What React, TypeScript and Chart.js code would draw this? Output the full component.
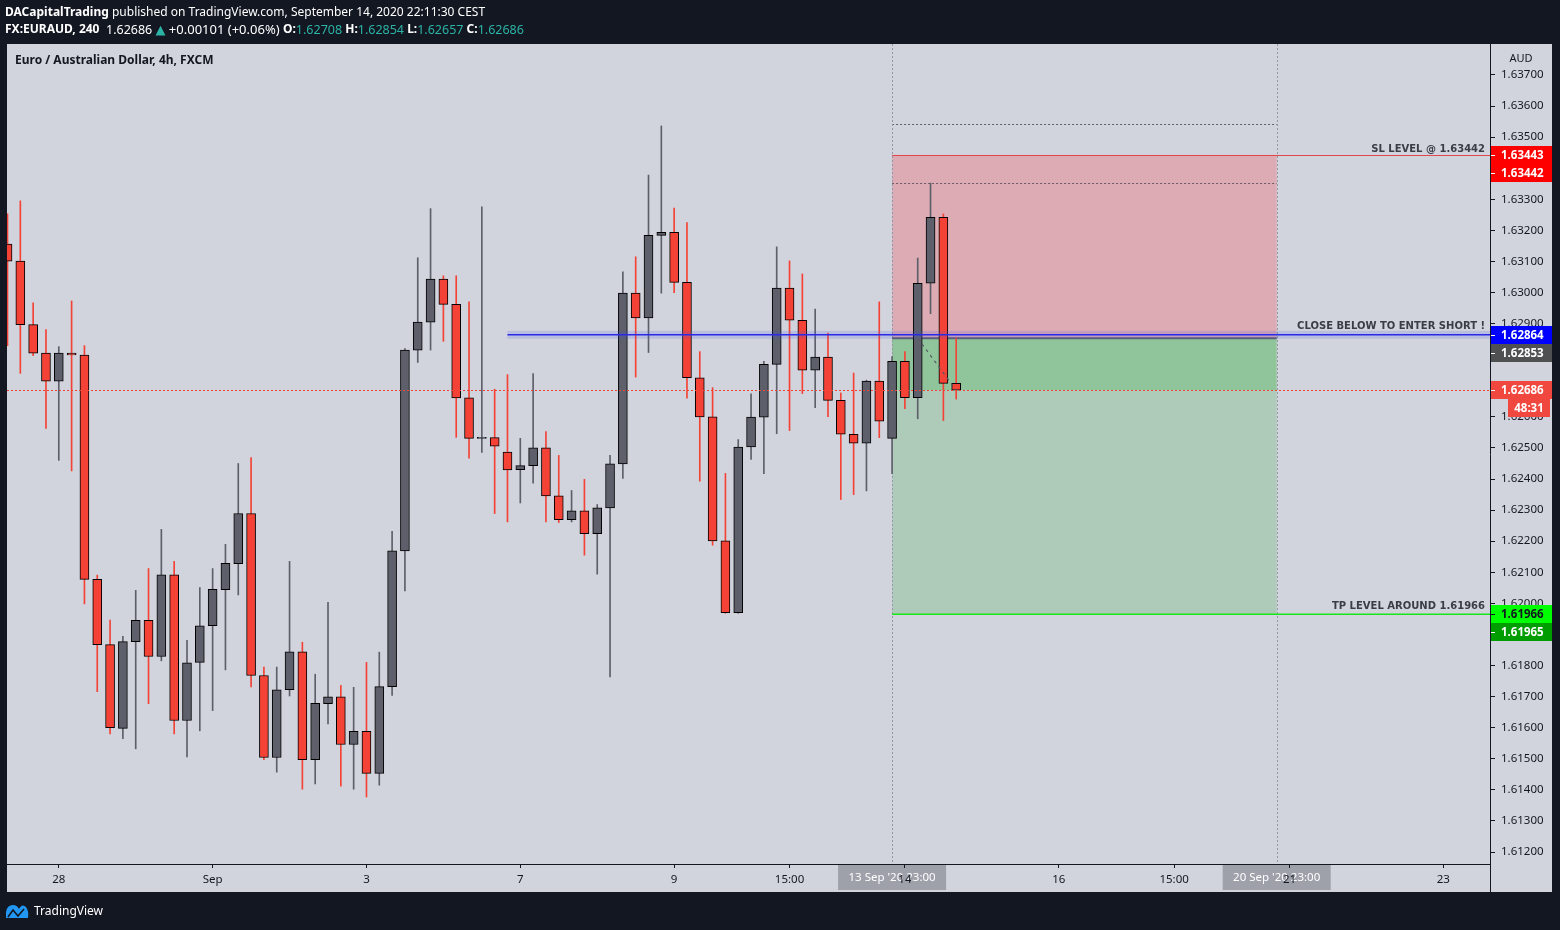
import React, { useEffect, useRef } from 'react';
import { Chart, registerables } from 'chart.js';

Chart.register(...registerables);

// ---- Candle data (EUR/AUD, 4h) ----
const opens = [
  1.63156, 1.63101, 1.62897, 1.62805, 1.62715, 1.62805, 1.62799, 1.62077, 1.61867, 1.61598,
  1.61877, 1.61945, 1.61829, 1.62092, 1.61623, 1.61810, 1.61928, 1.62044, 1.62128, 1.62289,
  1.61768, 1.61504, 1.61722, 1.61844, 1.61497, 1.61677, 1.61699, 1.61546, 1.61588, 1.61453,
  1.61732, 1.62169, 1.62815, 1.62905, 1.63043, 1.62962, 1.62661, 1.62531, 1.62533, 1.62487,
  1.62430, 1.62443, 1.62500, 1.62346, 1.62269, 1.62298, 1.62224, 1.62307, 1.62449, 1.62998,
  1.62918, 1.63184, 1.63194, 1.63033, 1.62726, 1.62600, 1.62201, 1.61970, 1.62503, 1.62599,
  1.62769, 1.63014, 1.62911, 1.62750, 1.62792, 1.62653, 1.62544, 1.62515, 1.62715, 1.62531,
  1.62779, 1.62662, 1.63030, 1.63242, 1.62708,
];
const highs = [
  1.63253, 1.63295, 1.62967, 1.62881, 1.62826, 1.62973, 1.62829, 1.62091, 1.61946, 1.61894,
  1.62042, 1.62112, 1.62238, 1.62135, 1.61881, 1.62051, 1.62112, 1.62190, 1.62450, 1.62469,
  1.61795, 1.61795, 1.62135, 1.61875, 1.61772, 1.62003, 1.61736, 1.61730, 1.61810, 1.61843,
  1.62232, 1.62820, 1.63112, 1.63270, 1.63054, 1.63054, 1.62970, 1.63276, 1.62689, 1.62736,
  1.62531, 1.62739, 1.62553, 1.62476, 1.62363, 1.62399, 1.62318, 1.62476, 1.63067, 1.63115,
  1.63378, 1.63536, 1.63272, 1.63225, 1.62810, 1.62694, 1.62418, 1.62527, 1.62674, 1.62779,
  1.63147, 1.63102, 1.63060, 1.62947, 1.62870, 1.62677, 1.62741, 1.62718, 1.62970, 1.62794,
  1.62810, 1.63111, 1.63352, 1.63253, 1.62854,
];
const lows = [
  1.62829, 1.62740, 1.62797, 1.62563, 1.62460, 1.62426, 1.61998, 1.61716, 1.61580, 1.61565,
  1.61532, 1.61677, 1.61815, 1.61580, 1.61506, 1.61590, 1.61655, 1.61786, 1.62027, 1.61731,
  1.61497, 1.61457, 1.61702, 1.61402, 1.61419, 1.61612, 1.61412, 1.61402, 1.61377, 1.61415,
  1.61704, 1.62040, 1.62775, 1.62815, 1.62843, 1.62534, 1.62467, 1.62486, 1.62289, 1.62262,
  1.62323, 1.62387, 1.62262, 1.62260, 1.62262, 1.62155, 1.62094, 1.61763, 1.62402, 1.62728,
  1.62807, 1.62998, 1.63000, 1.62660, 1.62393, 1.62187, 1.61968, 1.61968, 1.62463, 1.62417,
  1.62546, 1.62556, 1.62675, 1.62630, 1.62601, 1.62334, 1.62350, 1.62362, 1.62533, 1.62417,
  1.62626, 1.62594, 1.62932, 1.62588, 1.62657,
];
const closes = [
  1.63101, 1.62897, 1.62805, 1.62715, 1.62805, 1.62799, 1.62077, 1.61867, 1.61600, 1.61877,
  1.61945, 1.61829, 1.62092, 1.61623, 1.61809, 1.61928, 1.62045, 1.62129, 1.62289, 1.61768,
  1.61504, 1.61722, 1.61844, 1.61497, 1.61678, 1.61699, 1.61546, 1.61588, 1.61453, 1.61732,
  1.62169, 1.62815, 1.62905, 1.63043, 1.62962, 1.62661, 1.62531, 1.62534, 1.62506, 1.62429,
  1.62443, 1.62500, 1.62346, 1.62269, 1.62298, 1.62224, 1.62307, 1.62449, 1.62998, 1.62918,
  1.63184, 1.63194, 1.63033, 1.62726, 1.62600, 1.62201, 1.61970, 1.62503, 1.62599, 1.62769,
  1.63014, 1.62911, 1.62750, 1.62792, 1.62653, 1.62544, 1.62515, 1.62715, 1.62586, 1.62779,
  1.62662, 1.63030, 1.63242, 1.62708, 1.62686,
];

// ---- Axes ----
const timeTickIndex = [4, 16, 28, 40, 52, 61, 70, 82, 91, 100, 112];
const timeTickLabels = ['28', 'Sep', '3', '7', '9', '15:00', '14', '16', '15:00', '21', '23'];
const priceTicks = [
  1.612, 1.613, 1.614, 1.615, 1.616, 1.617, 1.618, 1.619, 1.62, 1.621, 1.622, 1.623, 1.624,
  1.625, 1.626, 1.627, 1.628, 1.629, 1.63, 1.631, 1.632, 1.633, 1.634, 1.635, 1.636, 1.637,
];
const xRange = [-0.04, 115.64];
const yRange = [1.611614, 1.637997];

// ---- Drawings ----
const positionRange = [69, 99];
const positionDates = ["13 Sep '20 23:00", "20 Sep '20 23:00"];
const entryPrice = 1.62853;
const stopPrice = 1.63443;
const targetPrice = 1.61966;
const highReached = 1.63352;
const upperDotted = 1.63542;
const slLevel = 1.63442;
const tpLevel = 1.61965;
const closeBelowLevel = 1.62864;
const closeBelowStart = 39;
const pathFrom = [71, 1.62853];
const pathTo = [74, 1.62686];
const countdown = '48:31';
const changeText = '+0.00101 (+0.06%)';

const RED = '#f44336';
const GREY = '#5d606b';
const FONT = "'Noto Sans', 'DejaVu Sans', sans-serif";

function drawRuns(ctx: CanvasRenderingContext2D, x: number, y: number, runs: [string, string, string][]) {
  let cx = x;
  for (const [t, font, color] of runs) {
    ctx.font = font;
    ctx.fillStyle = color;
    ctx.fillText(t, cx, y);
    cx += ctx.measureText(t).width;
  }
}

const overlayPlugin = {
  id: 'overlay',
  beforeDraw(chart: any) {
    const ctx: CanvasRenderingContext2D = chart.ctx;
    const xs = chart.scales.x;
    const ys = chart.scales.y;
    const ca = chart.chartArea;
    ctx.save();
    ctx.fillStyle = '#131722';
    ctx.fillRect(0, 0, chart.width, chart.height);
    ctx.fillStyle = '#d1d4dc';
    ctx.fillRect(ca.left, ca.top, ys.right - ca.left, xs.bottom - ca.top);

    // header
    ctx.textBaseline = 'middle';
    ctx.textAlign = 'left';
    const W = '#ffffff';
    const T = '#2cb3a5';
    const b = `bold 12px ${FONT}`;
    const r = `12px ${FONT}`;
    const num = `12.5px ${FONT}`;
    drawRuns(ctx, 5, 13, [
      ['DACapitalTrading', b, W],
      [' published on TradingView.com, September 14, 2020 22:11:30 CEST', r, W],
    ]);
    const n = closes.length - 1;
    drawRuns(ctx, 5, 30, [
      ['FX:EURAUD, 240', b, W],
      ['  ' + closes[n].toFixed(5) + ' ', num, W],
      ['\u25B2', `13px ${FONT}`, T],
      [' ' + changeText + ' ', `13px ${FONT}`, W],
      ['O:', b, W], [opens[n].toFixed(5), num, T], [' ', r, W],
      ['H:', b, W], [highs[n].toFixed(5), num, T], [' ', r, W],
      ['L:', b, W], [lows[n].toFixed(5), num, T], [' ', r, W],
      ['C:', b, W], [closes[n].toFixed(5), num, T],
    ]);

    // footer logo
    ctx.fillStyle = '#2196f3';
    ctx.beginPath();
    ctx.moveTo(6, 918);
    ctx.lineTo(6, 912);
    ctx.quadraticCurveTo(7, 905, 13, 905);
    ctx.quadraticCurveTo(17, 905, 19, 909);
    ctx.quadraticCurveTo(22, 903, 26, 907);
    ctx.quadraticCurveTo(29, 911, 28, 918);
    ctx.closePath();
    ctx.fill();
    ctx.strokeStyle = '#131722';
    ctx.lineWidth = 1.6;
    ctx.beginPath();
    ctx.moveTo(8, 917);
    ctx.lineTo(13, 910);
    ctx.lineTo(18, 916);
    ctx.lineTo(24, 909);
    ctx.stroke();
    ctx.fillStyle = '#ffffff';
    ctx.font = `12px ${FONT}`;
    ctx.fillText('TradingView', 34, 912);

    // time axis highlight boxes (tick labels are drawn over them)
    ctx.font = `11.5px ${FONT}`;
    ctx.textAlign = 'center';
    positionRange.forEach((v, i) => {
      const cx = xs.getPixelForValue(v);
      ctx.fillStyle = '#9ea1aa';
      ctx.fillRect(cx - 54, ca.bottom + 1, 108, 25);
      ctx.fillStyle = '#ffffff';
      ctx.fillText(positionDates[i], cx, ca.bottom + 14);
    });
    ctx.restore();
  },
  beforeDatasetsDraw(chart: any) {
    const ctx: CanvasRenderingContext2D = chart.ctx;
    const xs = chart.scales.x;
    const ys = chart.scales.y;
    const ca = chart.chartArea;
    const x0 = xs.getPixelForValue(positionRange[0]);
    const x1 = xs.getPixelForValue(positionRange[1]);
    const yStop = ys.getPixelForValue(stopPrice);
    const yEntry = ys.getPixelForValue(entryPrice);
    const yTarget = ys.getPixelForValue(targetPrice);
    const yLast = ys.getPixelForValue(closes[closes.length - 1]);
    ctx.save();
    ctx.beginPath();
    ctx.rect(ca.left, ca.top, ca.right - ca.left, ca.bottom - ca.top);
    ctx.clip();
    ctx.fillStyle = '#dcabb3';
    ctx.fillRect(x0, yStop, x1 - x0, yEntry - yStop);
    ctx.fillStyle = '#90c59b';
    ctx.fillRect(x0, yEntry, x1 - x0, yLast - yEntry);
    ctx.fillStyle = '#aecab9';
    ctx.fillRect(x0, yLast, x1 - x0, yTarget - yLast);

    // dotted lines inside the position
    ctx.lineWidth = 1;
    ctx.setLineDash([2, 2]);
    ctx.strokeStyle = '#5d606b';
    let y = Math.round(ys.getPixelForValue(upperDotted)) + 0.5;
    ctx.beginPath(); ctx.moveTo(x0, y); ctx.lineTo(x1, y); ctx.stroke();
    ctx.strokeStyle = '#6e5a66';
    y = Math.round(ys.getPixelForValue(highReached)) + 0.5;
    ctx.beginPath(); ctx.moveTo(x0, y); ctx.lineTo(x1, y); ctx.stroke();

    // vertical dotted range lines
    ctx.strokeStyle = '#9598a1';
    for (const xv of [x0, x1]) {
      const xx = Math.round(xv) + 0.5;
      ctx.beginPath(); ctx.moveTo(xx, ca.top); ctx.lineTo(xx, ca.bottom); ctx.stroke();
    }
    ctx.setLineDash([]);

    // entry line
    ctx.strokeStyle = '#5d606b';
    ctx.lineWidth = 2;
    ctx.beginPath(); ctx.moveTo(x0, yEntry); ctx.lineTo(x1, yEntry); ctx.stroke();
    ctx.restore();
  },
  afterDatasetsDraw(chart: any) {
    const ctx: CanvasRenderingContext2D = chart.ctx;
    const xs = chart.scales.x;
    const ys = chart.scales.y;
    const ca = chart.chartArea;
    const x0 = xs.getPixelForValue(positionRange[0]);
    ctx.save();
    ctx.beginPath();
    ctx.rect(ca.left, ca.top, ca.right - ca.left, ca.bottom - ca.top);
    ctx.clip();

    // dashed path line
    ctx.strokeStyle = '#555863';
    ctx.lineWidth = 1.2;
    ctx.setLineDash([3, 4]);
    ctx.beginPath();
    ctx.moveTo(xs.getPixelForValue(pathFrom[0]), ys.getPixelForValue(pathFrom[1]));
    ctx.lineTo(xs.getPixelForValue(pathTo[0]), ys.getPixelForValue(pathTo[1]));
    ctx.stroke();

    // current price line
    const yLast = Math.round(ys.getPixelForValue(closes[closes.length - 1])) + 0.5;
    ctx.strokeStyle = RED;
    ctx.lineWidth = 1;
    ctx.setLineDash([2, 2]);
    ctx.beginPath(); ctx.moveTo(ca.left, yLast); ctx.lineTo(ca.right, yLast); ctx.stroke();
    ctx.setLineDash([]);

    // close-below line with highlight band
    const yc = ys.getPixelForValue(closeBelowLevel);
    const xb = xs.getPixelForValue(closeBelowStart);
    ctx.fillStyle = 'rgba(70, 80, 230, 0.17)';
    ctx.fillRect(xb, yc - 4, ca.right - xb, 8);
    ctx.strokeStyle = '#2a2ae8';
    ctx.lineWidth = 1.5;
    ctx.beginPath(); ctx.moveTo(xb, yc); ctx.lineTo(ca.right, yc); ctx.stroke();

    // SL line
    const ySl = Math.round(ys.getPixelForValue(slLevel)) + 0.5;
    ctx.strokeStyle = '#e0484e';
    ctx.lineWidth = 1;
    ctx.beginPath(); ctx.moveTo(x0, ySl); ctx.lineTo(ca.right, ySl); ctx.stroke();

    // TP line
    const yTp = ys.getPixelForValue(tpLevel);
    ctx.strokeStyle = '#19e619';
    ctx.lineWidth = 1.5;
    ctx.beginPath(); ctx.moveTo(x0, yTp); ctx.lineTo(ca.right, yTp); ctx.stroke();

    // texts
    ctx.fillStyle = '#3a3d45';
    ctx.font = `bold 10px 'DejaVu Sans', sans-serif`;
    ctx.textAlign = 'right';
    ctx.textBaseline = 'alphabetic';
    ctx.fillText('SL LEVEL @ ' + slLevel.toFixed(5), ca.right - 5, ySl - 4);
    ctx.fillText('CLOSE BELOW TO ENTER SHORT !', ca.right - 5, yc - 6);
    ctx.fillText('TP LEVEL AROUND ' + targetPrice.toFixed(5), ca.right - 5, yTp - 5);
    ctx.restore();
  },
  afterDraw(chart: any) {
    const ctx: CanvasRenderingContext2D = chart.ctx;
    const xs = chart.scales.x;
    const ys = chart.scales.y;
    const ca = chart.chartArea;
    ctx.save();
    // separator through time axis
    ctx.strokeStyle = '#131722';
    ctx.lineWidth = 1;
    ctx.beginPath(); ctx.moveTo(ca.right + 0.5, ca.bottom); ctx.lineTo(ca.right + 0.5, xs.bottom); ctx.stroke();

    // title
    ctx.fillStyle = '#131722';
    ctx.textBaseline = 'middle';
    ctx.textAlign = 'left';
    ctx.font = `bold 12px ${FONT}`;
    ctx.fillText('Euro / Australian Dollar, 4h, FXCM', 15, 61);
    ctx.textAlign = 'center';
    ctx.font = `11px ${FONT}`;
    ctx.fillText('AUD', (ys.left + ys.right) / 2, 59);

    // price axis labels
    const labels = [
      { p: stopPrice, bg: '#ff0000', fg: '#ffffff' },
      { p: slLevel, bg: '#ff0000', fg: '#ffffff' },
      { p: closeBelowLevel, bg: '#0000ff', fg: '#ffffff' },
      { p: entryPrice, bg: '#4f5052', fg: '#ffffff' },
      { p: closes[closes.length - 1], bg: '#f0483e', fg: '#ffffff', extra: countdown },
      { p: targetPrice, bg: '#00ff00', fg: '#131722' },
      { p: tpLevel, bg: '#009d00', fg: '#ffffff' },
    ];
    const h = 18;
    let prevBottom = -1e9;
    ctx.font = `bold 11.5px ${FONT}`;
    ctx.textAlign = 'left';
    for (const l of labels) {
      let yc = ys.getPixelForValue(l.p);
      if (yc - h / 2 < prevBottom) yc = prevBottom + h / 2;
      const top = Math.round(yc - h / 2);
      ctx.fillStyle = l.bg;
      ctx.fillRect(ys.left + 1, top, ys.right - ys.left - 1, h);
      ctx.strokeStyle = l.fg;
      ctx.beginPath(); ctx.moveTo(ys.left + 1, top + h / 2 + 0.5); ctx.lineTo(ys.left + 5, top + h / 2 + 0.5); ctx.stroke();
      ctx.fillStyle = l.fg;
      ctx.fillText(l.p.toFixed(5), ys.left + 11, top + h / 2 + 1);
      prevBottom = top + h;
      if (l.extra) {
        ctx.fillStyle = l.bg;
        ctx.fillRect(ys.left + 18, top + h, ys.right - ys.left - 20, h);
        ctx.fillStyle = '#ffffff';
        ctx.textAlign = 'center';
        ctx.fillText(l.extra, ys.left + 18 + (ys.right - ys.left - 20) / 2, top + h + h / 2 + 1);
        ctx.textAlign = 'left';
        prevBottom = top + 2 * h;
      }
    }
    ctx.restore();
  },
};

export default function App() {
  const ref = useRef<HTMLCanvasElement>(null);
  useEffect(() => {
    document.body.style.margin = '0';
    const down = opens.map((o, i) => closes[i] < o);
    const chart = new Chart(ref.current as HTMLCanvasElement, {
      type: 'bar',
      data: {
        datasets: [
          {
            label: 'wicks',
            data: opens.map((_, i) => ({ x: i, y: [lows[i], highs[i]] })) as any,
            backgroundColor: down.map((d) => (d ? RED : GREY)),
            borderWidth: 0,
            barThickness: 1,
            grouped: false,
            order: 2,
          } as any,
          {
            label: 'bodies',
            data: opens.map((o, i) => ({ x: i, y: [o, closes[i]] })) as any,
            backgroundColor: down.map((d) => (d ? RED : GREY)),
            borderColor: '#000000',
            borderWidth: 1,
            borderSkipped: false,
            barThickness: 9,
            grouped: false,
            order: 1,
          } as any,
        ],
      },
      options: {
        animation: false,
        responsive: false,
        devicePixelRatio: 1,
        events: [],
        layout: { padding: { left: 7, right: 8, top: 44, bottom: 38 } },
        plugins: { legend: { display: false }, tooltip: { enabled: false } },
        scales: {
          x: {
            type: 'linear',
            min: xRange[0],
            max: xRange[1],
            offset: false,
            grid: { display: true, offset: false, drawOnChartArea: false, drawTicks: true, tickLength: 4, tickColor: '#131722' },
            border: { display: true, color: '#131722' },
            ticks: {
              autoSkip: false,
              maxRotation: 0,
              padding: 5,
              color: '#131722',
              font: { family: FONT, size: 11.5 },
              callback: (v: any) => {
                const k = timeTickIndex.indexOf(Number(v));
                return k >= 0 ? timeTickLabels[k] : '';
              },
            },
            afterBuildTicks: (s: any) => {
              s.ticks = timeTickIndex.map((v) => ({ value: v }));
            },
            afterFit: (s: any) => {
              s.height = 28;
            },
          },
          y: {
            type: 'linear',
            position: 'right',
            min: yRange[0],
            max: yRange[1],
            grid: { display: true, drawOnChartArea: false, drawTicks: true, tickLength: 5, tickColor: '#131722' },
            border: { display: true, color: '#131722' },
            ticks: {
              padding: 6,
              color: '#131722',
              font: { family: FONT, size: 11.5 },
              callback: (v: any) => Number(v).toFixed(5),
            },
            afterBuildTicks: (s: any) => {
              s.ticks = priceTicks.map((v) => ({ value: v }));
            },
            afterFit: (s: any) => {
              s.width = 62;
            },
          },
        },
      } as any,
      plugins: [overlayPlugin],
    });
    return () => chart.destroy();
  }, []);
  return (
    <div style={{ position: 'fixed', left: 0, top: 0, width: 1560, height: 930 }}>
      <canvas ref={ref} width={1560} height={930} style={{ display: 'block', width: 1560, height: 930 }} />
    </div>
  );
}
